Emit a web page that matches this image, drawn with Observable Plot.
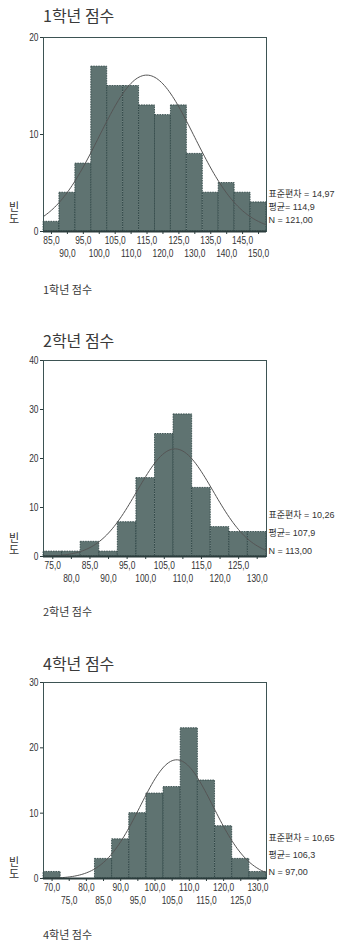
<!DOCTYPE html>
<html><head><meta charset="utf-8">
<script src="https://cdn.jsdelivr.net/npm/d3@7"></script>
<script src="https://cdn.jsdelivr.net/npm/@observablehq/plot@0.6"></script>
<style>
body{margin:0;background:#fff;}
#wrap{position:relative;width:341px;height:943px;overflow:hidden;font-family:"Noto Sans CJK KR",sans-serif;background:#fff;}
.t{position:absolute;left:43px;color:#3a3a3a;white-space:nowrap;line-height:1;}
.title{font-size:16px;}
.cap{font-size:11px;}
.ylab{position:absolute;left:7px;font-size:11px;line-height:13px;color:#333;writing-mode:vertical-rl;text-orientation:upright;letter-spacing:1px;white-space:nowrap;}
.pl{position:absolute;left:0;}
</style></head>
<body><div id="wrap"></div>
<script>
// ---- data ----
const bins1 = [85,90,95,100,105,110,115,120,125,130,135,140,145,150];
const counts1 = [1,4,7,17,15,15,13,12,13,8,4,5,4,3];
const stats1 = {sd:14.97, mean:114.9, n:121};
const yTicks1 = [0,10,20];
const xTop1 = [85,95,105,115,125,135,145];
const xBot1 = [90,100,110,120,130,140,150];

const bins2 = [75,80,85,90,95,100,105,110,115,120,125,130];
const counts2 = [1,1,3,1,7,16,25,29,14,6,5,5];
const stats2 = {sd:10.26, mean:107.9, n:113};
const yTicks2 = [0,10,20,30,40];
const xTop2 = [75,85,95,105,115,125];
const xBot2 = [80,90,100,110,120,130];

const bins3 = [70,75,80,85,90,95,100,105,110,115,120,125,130];
const counts3 = [1,0,0,3,6,10,13,14,23,15,8,3,1];
const stats3 = {sd:10.65, mean:106.3, n:97};
const yTicks3 = [0,10,20,30];
const xTop3 = [70,80,90,100,110,120,130];
const xBot3 = [75,85,95,105,115,125];

const titles = ["1학년 점수","2학년 점수","4학년 점수"];
const yTitle = "빈도";

const fmt1 = v => d3.format(".1f")(v).replace(".", ",");
const fmt2 = v => d3.format(".2f")(v).replace(".", ",");

function hist(bins, counts, yTicks, xTop, xBot, stats, frameH, statDy) {
  const w = 5;
  const data = bins.map((b, i) => ({x1: b - w/2, x2: b + w/2, y: counts[i]}));
  const lo = bins[0] - w/2, hi = bins[bins.length - 1] + w/2;
  const k = stats.n * w / (stats.sd * Math.sqrt(2 * Math.PI));
  const curve = d3.range(lo, hi + 0.001, 0.5).map(x => ({x, y: k * Math.exp(-0.5 * ((x - stats.mean) / stats.sd) ** 2)}));
  const lines = [
    "표준편차 = " + fmt2(stats.sd),
    "평균= " + fmt1(stats.mean),
    "N = " + fmt2(stats.n)
  ];
  return Plot.plot({
    width: 341, height: 10 + frameH + 36,
    marginTop: 10, marginLeft: 43, marginRight: 75, marginBottom: 36,
    style: {fontFamily: '"Liberation Sans","Noto Sans CJK KR",sans-serif', fontSize: "10.5px", color: "#333", background: "transparent", overflow: "visible"},
    x: {domain: [lo, hi]},
    y: {domain: [0, yTicks[yTicks.length - 1]]},
    marks: [
      Plot.rectY(data, {x1: "x1", x2: "x2", y: "y", fill: "#5f7371", stroke: "#263e3e", strokeWidth: 0.8, strokeDasharray: "1.5,1"}),
      Plot.line(curve, {x: "x", y: "y", stroke: "#555", strokeWidth: 1}),
      Plot.frame({stroke: "#3d5353", strokeWidth: 1}),
      Plot.ruleY([0], {stroke: "#2b3c3c", strokeWidth: 2}),
      Plot.axisY({ticks: yTicks, tickSize: 3, tickPadding: 2, label: null, stroke: "#2b3c3c", fontSize: 10.5}),
      Plot.axisX({ticks: bins, tickSize: 3, tickFormat: () => "", label: null, stroke: "#2b3c3c"}),
      Plot.axisX({ticks: xTop, tickSize: 0, tickPadding: 5, tickFormat: fmt1, label: null, fontSize: 10.5}),
      Plot.axisX({ticks: xBot, tickSize: 0, tickPadding: 18, tickFormat: fmt1, label: null, fontSize: 10.5}),
      ...lines.map((t, i) => Plot.text([t], {frameAnchor: "bottom-right", textAnchor: "start", dx: 2, dy: statDy[i], fontSize: 9, fill: "#333", fontFamily: '"Liberation Sans Narrow","Liberation Sans","Noto Sans CJK KR",sans-serif'}))
    ]
  });
}

// squeeze axis tick labels horizontally to mimic the condensed font of the original
function condense(svg, f) {
  svg.querySelectorAll("g[aria-label$='tick label'] text").forEach(el => {
    const len = el.getComputedTextLength();
    if (len > 0) {
      el.setAttribute("textLength", (len * f).toFixed(2));
      el.setAttribute("lengthAdjust", "spacingAndGlyphs");
    }
  });
}

const wrap = document.getElementById("wrap");
const cfg = [
  {bins: bins1, counts: counts1, yT: yTicks1, xT: xTop1, xB: xBot1, st: stats1, top: 27, fh: 194, dy: [-35, -22, -9], tt: 7, cap: 284, yl: 201},
  {bins: bins2, counts: counts2, yT: yTicks2, xT: xTop2, xB: xBot2, st: stats2, top: 350, fh: 196, dy: [-39, -21, -3], tt: 332, cap: 606, yl: 532},
  {bins: bins3, counts: counts3, yT: yTicks3, xT: xTop3, xB: xBot3, st: stats3, top: 672, fh: 196, dy: [-38, -21, -4], tt: 655, cap: 929, yl: 856}
];
cfg.forEach((c, i) => {
  const t = document.createElement("div");
  t.className = "t title"; t.style.top = c.tt + "px"; t.textContent = titles[i];
  wrap.appendChild(t);
  const p = hist(c.bins, c.counts, c.yT, c.xT, c.xB, c.st, c.fh, c.dy);
  p.classList.add("pl"); p.style.top = c.top + "px";
  wrap.appendChild(p);
  condense(p, 0.8);
  const cap = document.createElement("div");
  cap.className = "t cap"; cap.style.top = c.cap + "px"; cap.textContent = titles[i];
  wrap.appendChild(cap);
  const yl = document.createElement("div");
  yl.className = "ylab"; yl.style.top = c.yl + "px"; yl.textContent = yTitle;
  wrap.appendChild(yl);
});
</script>
</body></html>
